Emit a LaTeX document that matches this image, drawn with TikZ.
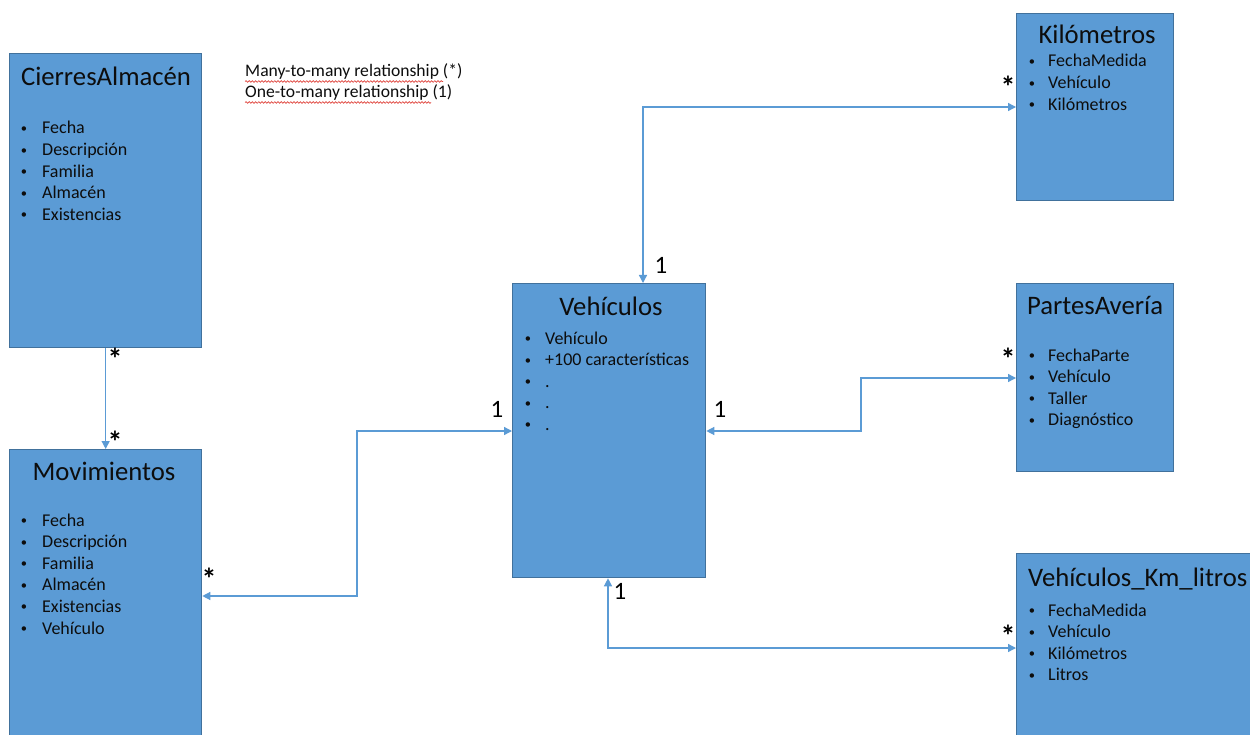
\documentclass[tikz,border=0pt]{standalone}
\usepackage{fontspec}
\setmainfont{Carlito}
\usetikzlibrary{arrows.meta,decorations.pathmorphing}

\definecolor{boxfill}{HTML}{5B9BD5}
\definecolor{boxline}{HTML}{41719C}
\definecolor{linkblue}{HTML}{5B9BD5}
\definecolor{spellred}{HTML}{E0443C}
\definecolor{inktext}{HTML}{0D0D0D}

\tikzset{
  entity/.style={draw=boxline, fill=boxfill, line width=1.3pt, inner sep=0pt,
                 anchor=north west, minimum width=#1},
  entity/.default=157pt,
  heading/.style={inner sep=0pt, text=inktext, font=\fontsize{26.7}{32}\selectfont},
  field/.style={inner sep=0pt, anchor=base west, text=inktext, font=\fontsize{18}{21.6}\selectfont},
  dot/.style={inner sep=0pt, anchor=base, text=inktext, font=\fontsize{12.5}{15}\selectfont},
  legend/.style={inner sep=0pt, anchor=base west, text=inktext, font=\fontsize{17.6}{21}\selectfont},
  one/.style={inner sep=0pt, text=black, font=\fontsize{25}{30}\selectfont},
  many/.style={inner sep=0pt, anchor=base, text=black, font=\fontsize{30}{36}\bfseries\selectfont},
  link/.style={draw=linkblue, line width=1.3pt,
               arrows={-Triangle[length=8pt, width=8pt]}},
  twoway/.style={link, arrows={Triangle[length=8pt, width=8pt]-Triangle[length=8pt, width=8pt]}},
  squiggle/.style={draw=spellred, line width=0.7pt, decorate,
                   decoration={snake, amplitude=0.8pt, segment length=3.2pt}}
}

% bulleted attribute list: name, bullet x, text x, first baseline, items
\newcommand\fieldlist[5]{%
  \foreach \f [count=\k from 0] in {#5} {
    \node[dot]   (#1-b\k) at (#2, {#4+21.6*\k-1.5}) {\textbullet};
    \node[field] (#1-\k)  at (#3, {#4+21.6*\k}) {\f};
  }}

% multiplicity star, centred on the given point
\newcommand\manymark[3]{\node[many] (#1) at (#2, {#3+14}) {*};}

\begin{document}
\begin{tikzpicture}[x=1pt, y=-1pt]
\useasboundingbox (0,0) rectangle (1250,735);
\clip (0,0) rectangle (1250,735);
\fill[white] (0,0) rectangle (1250,735);

% entity boxes
\node[entity=192pt, minimum height=294pt] (ca)  at (9,53)    {};
\node[entity=192pt, minimum height=311pt] (mov) at (9,449)   {};
\node[entity=193pt, minimum height=294pt] (veh) at (512,283) {};
\node[entity=157pt, minimum height=187pt] (km)  at (1016,13) {};
\node[entity=157pt, minimum height=188pt] (pa)  at (1016,283){};
\node[entity=254pt, minimum height=207pt] (kml) at (1016,553){};

% headings
\node[heading, anchor=base] (ca-title)  at (106,86)  {CierresAlmacén};
\node[heading, anchor=base] (mov-title) at (104,480) {Movimientos};
\node[heading, anchor=base] (veh-title) at (611,316) {Vehículos};
\node[heading, anchor=base] (km-title)  at (1097,44) {Kilómetros};
\node[heading, anchor=base] (pa-title)  at (1095,315){PartesAvería};
\node[heading, anchor=base west] (kml-title) at (1028,586) {Vehículos\_Km\_litros};

% attributes
\fieldlist{ca}{24}{42}{134}{Fecha,Descripción,Familia,Almacén,Existencias}
\fieldlist{mov}{24}{42}{526}{Fecha,Descripción,Familia,Almacén,Existencias,Vehículo}
\fieldlist{veh}{528}{545}{344}{Vehículo,+100 características,.,.,.}
\fieldlist{km}{1032}{1048}{67}{FechaMedida,Vehículo,Kilómetros}
\fieldlist{pa}{1032}{1048}{361}{FechaParte,Vehículo,Taller,Diagnóstico}
\fieldlist{kml}{1032}{1048}{616}{FechaMedida,Vehículo,Kilómetros,Litros}

% legend
\node[legend] (leg-many) at (245,77) {Many-to-many relationship (*)};
\node[legend] (leg-one)  at (245,98) {One-to-many relationship (1)};
\draw[squiggle] (245,81.5) -- (443,81.5);
\draw[squiggle] (245,102.5) -- (431,102.5);

% bend points of the connectors
\coordinate (kmturn)  at (643,107);
\coordinate (pa-low)  at (861,431);
\coordinate (pa-high) at (861,378);
\coordinate (mov-low) at (357,596);
\coordinate (mov-high)at (357,431);
\coordinate (kml-turn)at (608,648);

% connectors
\draw[link]   (ca.south) -- (mov.north);
\draw[twoway] (kmturn |- veh.north) -- (kmturn) -- (km.west |- kmturn);
\draw[twoway] (veh.east |- pa-low) -- (pa-low) -- (pa-high) -- (pa.west |- pa-high);
\draw[twoway] (mov.east |- mov-low) -- (mov-low) -- (mov-high) -- (veh.west |- mov-high);
\draw[twoway] (kml-turn |- veh.south) -- (kml-turn) -- (kml.west |- kml-turn);

% multiplicities
\manymark{m-ca}{115}{355}
\manymark{m-mov}{115}{438}
\manymark{m-movr}{209}{575}
\manymark{m-km}{1008}{84}
\manymark{m-pa}{1008}{355}
\manymark{m-kml}{1008}{632}
\node[one]  (o-top)  at (661,265)  {1};
\node[one]  (o-left) at (497,409)  {1};
\node[one]  (o-right)at (720,409)  {1};
\node[one]  (o-bot)  at (620,591)  {1};
\end{tikzpicture}
\end{document}
